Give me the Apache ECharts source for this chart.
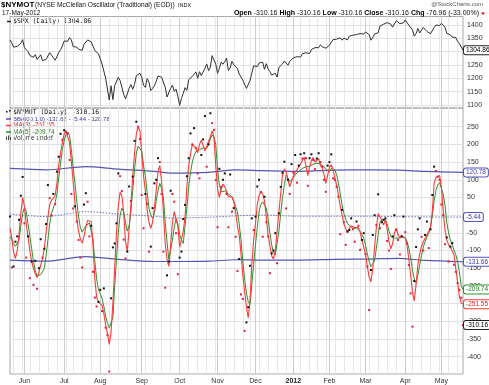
<!DOCTYPE html>
<html><head><meta charset="utf-8">
<script src="https://cdn.jsdelivr.net/npm/echarts@6/dist/echarts.min.js"></script>
<style>html,body{margin:0;padding:0;background:#fff}#c{width:489px;height:385px}</style>
</head><body><div id="c"></div>
<script>
// ---------- categories: NYSE trading days 19-May-2011 .. 17-May-2012 ----------
const holidays = ['2011-05-30','2011-07-04','2011-09-05','2011-11-24','2011-12-26','2012-01-02','2012-01-16','2012-02-20','2012-04-06'];
const firstDay = '2011-05-19', lastDay = '2012-05-17';
function tradingDays(){
  const out=[]; let d=new Date(firstDay+'T00:00:00Z'); const e=new Date(lastDay+'T00:00:00Z');
  while(d<=e){ const s=d.toISOString().slice(0,10); const w=d.getUTCDay();
    if(w!==0&&w!==6&&holidays.indexOf(s)<0) out.push(s); d=new Date(d.getTime()+86400000); }
  return out;
}
const dates = tradingDays();
const monthNames = ['Jan','Feb','Mar','Apr','May','Jun','Jul','Aug','Sep','Oct','Nov','Dec'];
const spxTicks = [1100,1150,1200,1250,1300,1350,1400];
const oscTicks = [-400,-350,-300,-250,-200,-150,-100,-50,0,50,100,150,200,250];

// ---------- $SPX daily close ----------
const spx = [
1344,1333,1317,1316,1320,1325,1331,1345,1315,1313,
1300,1286,1284,1279,1289,1271,1272,1288,1266,1268,
1271,1278,1296,1287,1283,1268,1281,1297,1307,1321,
1340,1338,1339,1353,1344,1319,1314,1317,1309,1316,
1305,1327,1326,1344,1345,1337,1331,1304,1300,1292,
1287,1254,1261,1200,1199,1119,1172,1120,1172,1179,
1204,1192,1193,1140,1123,1123,1162,1177,1159,1177,
1210,1212,1219,1204,1174,1166,1199,1186,1154,1162,
1172,1188,1209,1216,1204,1202,1167,1130,1136,1162,
1175,1151,1160,1131,1099,1124,1144,1165,1155,1195,
1195,1207,1203,1224,1200,1225,1210,1215,1238,1254,
1229,1242,1285,1285,1253,1219,1237,1261,1253,1262,
1276,1229,1239,1264,1251,1258,1237,1216,1216,1193,
1188,1162,1159,1192,1196,1247,1245,1244,1257,1258,
1261,1234,1255,1236,1225,1212,1215,1219,1205,1241,
1243,1254,1265,1265,1249,1263,1258,1277,1277,1281,
1278,1280,1292,1292,1296,1289,1293,1308,1315,1315,
1316,1315,1326,1318,1316,1313,1312,1324,1325,1345,
1344,1347,1350,1352,1343,1351,1351,1344,1358,1361,
1362,1357,1364,1366,1368,1372,1366,1374,1370,1364,
1343,1353,1366,1370,1371,1396,1394,1403,1404,1409,
1405,1403,1392,1397,1416,1413,1405,1403,1408,1419,
1413,1399,1398,1382,1358,1368,1387,1370,1370,1391,
1385,1376,1378,1367,1372,1391,1400,1403,1398,1406,
1403,1392,1369,1369,1363,1355,1357,1353,1339,1330,
1325,1304.86];

// ---------- $NYMOT daily values (dots) ----------
const osc = [
-4,-148,-145,-75,-60,-13,55,108,-23,-120,
-60,-178,-131,-197,-129,-208,-150,-68,-120,-95,
-25,85,48,0,60,31,123,165,230,213,
240,236,230,156,60,19,25,-18,-70,-120,
-148,30,62,38,-60,-30,-160,-233,-258,-245,
-211,-271,-207,-318,-339,-442,-235,-91,-80,-23,
118,110,68,-69,-122,-103,81,40,109,210,
264,250,215,57,-37,60,32,-103,-89,20,
90,100,161,150,60,-103,-205,-170,-131,69,
60,38,-51,-167,-120,-103,-11,29,110,161,
231,200,246,190,118,104,170,214,280,137,
200,288,260,241,99,-34,131,80,100,118,
60,-34,115,10,20,-61,-158,-124,-224,-237,
-327,-303,-260,-143,-9,-42,-4,81,100,65,
-61,52,-20,-60,-164,-108,-100,-51,-136,5,
80,120,151,19,100,60,144,120,170,92,
140,172,160,175,161,83,161,172,156,130,
160,175,150,137,100,66,140,150,172,104,
100,80,52,-54,15,-20,-84,-46,-42,-9,
-40,-75,-18,-30,-98,-70,-51,-110,-145,-268,
-155,-56,0,-28,59,-37,-20,-13,-9,-73,
-100,-152,-60,0,-42,-70,-111,-60,-4,-48,
-80,-141,-221,-315,-186,-90,-40,-9,-61,-100,
-56,-18,-93,-40,57,137,125,109,100,30,
0,-82,-63,-131,-89,-79,-140,-160,-192,-211.3,
-233.2,-310.16];

// ---------- MA(3) ----------
const ma3 = [
-37,-65,-105,-122,-100,-55,5,50,25,-25,
-62,-100,-131,-150,-166,-176,-162,-142,-122,-95,
-50,-5,30,42,48,55,90,140,175,205,
230,238,238,205,150,95,35,-10,-45,-68,
-79,-60,-35,-15,-12,-18,-85,-180,-232,-245,
-250,-255,-278,-310,-335,-365,-330,-250,-150,-50,
25,65,55,5,-75,-103,-40,30,110,175,
230,250,238,175,110,70,15,-20,-37,-20,
20,70,123,140,95,10,-80,-125,-145,-85,
-20,10,10,-30,-90,-90,-45,-5,80,140,
172,200,198,190,176,200,212,215,182,195,
208,222,238,222,140,75,50,72,88,80,
68,52,52,52,38,10,-30,-56,-110,-170,
-215,-260,-290,-240,-140,-70,-25,30,55,68,
60,40,-5,-55,-85,-115,-124,-100,-45,10,
60,115,130,123,100,80,95,110,122,128,
132,145,155,163,140,112,135,155,163,150,
155,160,140,133,115,90,112,135,142,130,
105,85,55,25,0,-25,-38,-50,-38,-30,
-28,-35,-37,-35,-48,-70,-90,-110,-145,-175,
-188,-150,-90,-35,5,3,-15,-28,-13,-40,
-75,-95,-80,-50,-37,-55,-65,-58,-60,-65,
-85,-125,-170,-216,-242,-195,-140,-110,-88,-75,
-65,-56,-52,-35,10,90,106,110,112,80,
15,-40,-70,-84,-90,-95,-112,-150,-190,-230,
-248,-251.55];

// ---------- MA(5) ----------
const ma5 = [
-61,-70,-80,-88,-90,-70,-30,5,22,10,
-25,-60,-95,-130,-158,-172,-175,-168,-160,-150,
-115,-70,-25,5,20,35,60,105,145,185,
210,228,235,225,185,135,90,40,-5,-35,
-48,-45,-30,-25,-22,-25,-70,-130,-180,-210,
-222,-235,-258,-285,-305,-318,-318,-290,-200,-125,
-50,0,20,10,-20,-45,-30,10,70,130,
175,195,200,180,140,110,65,20,0,-9,
5,40,70,90,75,50,-20,-75,-125,-100,
-70,-35,-10,-25,-55,-70,-80,-30,20,80,
120,150,168,180,183,185,188,190,190,189,
200,215,227,220,200,130,85,66,66,68,
66,60,55,52,40,25,10,-25,-70,-130,
-180,-220,-245,-252,-195,-140,-85,-35,10,30,
38,35,20,-10,-50,-84,-105,-112,-80,-45,
5,48,85,114,105,95,100,105,114,118,
124,128,132,135,137,137,138,141,144,146,
147,147,145,141,137,130,125,123,132,137,
128,114,90,60,29,5,-12,-23,-30,-35,
-37,-37,-37,-37,-45,-55,-65,-85,-110,-131,
-145,-150,-130,-93,-55,-20,-13,-12,-13,-25,
-45,-60,-65,-65,-63,-65,-63,-61,-61,-63,
-75,-93,-120,-155,-180,-192,-170,-141,-115,-90,
-75,-62,-52,-35,0,40,70,85,92,95,
60,29,-20,-50,-70,-84,-98,-112,-131,-160,
-200,-209.74];

// ---------- BB(600,1.0) read at a few dates ----------
const bbDates = ['2011-05-19','2011-06-17','2011-07-20','2011-08-15','2011-09-13','2011-09-27','2011-10-25','2011-11-15','2011-12-07','2012-01-06','2012-02-06','2012-03-06','2012-03-27','2012-04-18','2012-05-17'];
const bbUpper = [132,128,137,130,124,119,121,128,126,124,127,128,127,124,120.78];
const bbMid   = [3,-4,10,3,-3,-8,-6,-2,0,-3,-3,-3,-4,-5,-5.44];
const bbLower = [-127,-130,-117,-125,-131,-131,-130,-126,-127,-127,-125,-124,-122,-128,-131.66];

// ---------- chart ----------
const FONT = '"Liberation Sans", Arial, sans-serif';
const C_RED = '#ff3838', C_GREEN = '#2f8f2f', C_BLUE = '#5555b5', C_DOT_RED = '#e0203c';
const last = a => a[a.length-1];
const pair = (ds, vs) => ds.map((d,i)=>[d, vs[i]]);
function dow(s){ return new Date(s+'T00:00:00Z').getUTCDay(); }
function isWeekStart(i){ return i>0 && dow(dates[i]) < dow(dates[i-1]); }
function isMonthStart(i){ return i>0 && dates[i].slice(5,7) !== dates[i-1].slice(5,7); }
function monthLabel(v){ const m=+v.slice(5,7); return m===1 ? '{y|'+v.slice(0,4)+'}' : monthNames[m-1]; }

function endLbl(text, color, border){
  return {show:true, formatter: ()=>text, distance:1, fontSize:6.5, fontFamily:FONT, color:color,
    backgroundColor:'#fff', borderColor:border||color, borderWidth:1, borderRadius:2, padding:[1,2,0,2]};
}

const frameX = (gi, kind, labels) => ({
  type:'category', gridIndex:gi, data:dates, boundaryGap:false, position:'bottom',
  axisLine:{show:false}, axisTick:{show:false},
  axisLabel: labels ? {show:true, interval:(i)=>isMonthStart(i), formatter:monthLabel, fontSize:7, fontFamily:FONT, color:'#333', margin:4,
      rich:{y:{fontWeight:'bold', fontSize:7, fontFamily:FONT, color:'#222'}}} : {show:false},
  splitLine:{show:true, interval: kind==='w' ? (i)=>isWeekStart(i) : (i)=>isMonthStart(i),
     lineStyle:{color: kind==='w' ? '#e8e8e8' : '#cccccc', width:1}}
});

const yLab = {fontSize:7, fontFamily:FONT, color:'#333', margin:4, formatter:(v)=>String(v)};

const option = {
  animation:false,
  backgroundColor:'#fff',
  grid:[
    {left:10, right:26, top:16.5, height:91.5, show:true, borderColor:'#a8a8a8', borderWidth:1},
    {left:10, right:26, top:25, height:80},
    {left:10, right:26, top:108, height:267, show:true, borderColor:'#a8a8a8', borderWidth:1},
    {left:10, right:26, top:126.7, height:230}
  ],
  xAxis:[
    frameX(0,'w',false), frameX(0,'m',false),
    {type:'category', gridIndex:1, data:dates, boundaryGap:false, show:false},
    frameX(2,'w',false), frameX(2,'m',true),
    {type:'category', gridIndex:3, data:dates, boundaryGap:false, show:false}
  ],
  yAxis:[
    {type:'value', gridIndex:0, show:false, splitLine:{show:false}},
    {type:'value', gridIndex:1, min:spxTicks[0], max:last(spxTicks), interval:50, position:'right',
      axisLine:{show:false}, axisTick:{show:false}, axisLabel:yLab, splitLine:{lineStyle:{color:'#e2e2e2'}}},
    {type:'value', gridIndex:2, show:false, splitLine:{show:false}},
    {type:'value', gridIndex:3, min:oscTicks[0], max:last(oscTicks), interval:50, position:'right',
      axisLine:{show:false}, axisTick:{show:false}, axisLabel:yLab, splitLine:{lineStyle:{color:'#e2e2e2'}}}
  ],
  series:[
    {type:'line', name:'$SPX', xAxisIndex:2, yAxisIndex:1, data:spx, symbol:'none', clip:false,
      lineStyle:{color:'#303030', width:1}, endLabel:endLbl(last(spx).toFixed(2),'#000','#222')},
    {type:'line', name:'BB upper', xAxisIndex:5, yAxisIndex:3, data:pair(bbDates,bbUpper), symbol:'none', smooth:0.3,
      lineStyle:{color:C_BLUE, width:1.2}, endLabel:endLbl(last(bbUpper).toFixed(2),'#3a3aaa',C_BLUE)},
    {type:'line', name:'BB mid', xAxisIndex:5, yAxisIndex:3, data:pair(bbDates,bbMid), symbol:'none', smooth:0.3,
      lineStyle:{color:'#7070c8', width:1, type:[1.5,1.5]}, endLabel:endLbl(last(bbMid).toFixed(2),'#3a3aaa',C_BLUE)},
    {type:'line', name:'BB lower', xAxisIndex:5, yAxisIndex:3, data:pair(bbDates,bbLower), symbol:'none', smooth:0.3,
      lineStyle:{color:C_BLUE, width:1.2}, endLabel:endLbl(last(bbLower).toFixed(2),'#3a3aaa',C_BLUE)},
    {type:'line', name:'MA(5)', xAxisIndex:5, yAxisIndex:3, data:ma5, symbol:'none', clip:false,
      lineStyle:{color:C_GREEN, width:1}, endLabel:endLbl(last(ma5).toFixed(2),'#1f7a1f',C_GREEN)},
    {type:'line', name:'MA(3)', xAxisIndex:5, yAxisIndex:3, data:ma3, symbol:'none', clip:false,
      lineStyle:{color:C_RED, width:1.1}, endLabel:endLbl(last(ma3).toFixed(2),'#e02020',C_RED)},
    {type:'line', name:'$NYMOT', xAxisIndex:5, yAxisIndex:3, data:osc, clip:false,
      symbol:'rect', symbolSize:2, showSymbol:true, showAllSymbol:true,
      lineStyle:{width:0, opacity:0},
      itemStyle:{color:(p)=> (p.dataIndex>0 && osc[p.dataIndex] < osc[p.dataIndex-1]) ? C_DOT_RED : '#111'},
      endLabel:endLbl(last(osc).toFixed(2),'#000','#222')}
  ],
  graphic:[
    {type:'text', x:1, y:5, style:{text:'$NYMOT', font:'bold 8px '+FONT, fill:'#000', textVerticalAlign:'middle'}},
    {type:'text', x:35, y:5.5, style:{text:'(NYSE McClellan Oscillator (Traditional) (EOD))', font:'6.6px '+FONT, fill:'#111', textVerticalAlign:'middle'}},
    {type:'text', x:178, y:5.5, style:{text:'INDX', font:'5.5px '+FONT, fill:'#111', textVerticalAlign:'middle'}},
    {type:'text', x:2, y:13, style:{text:'17-May-2012', font:'6.5px '+FONT, fill:'#111', textVerticalAlign:'middle'}},
    {type:'text', x:483, y:4.5, style:{text:'@StockCharts.com', font:'6px '+FONT, fill:'#555', textAlign:'right', textVerticalAlign:'middle'}},
    {type:'text', x:479, y:13.5, style:{
      text:'{b|Open} {n|-310.16} {b|High} {n|-310.16} {b|Low} {n|-310.16} {b|Close} {n|-310.16} {b|Chg} {n|-76.96 (-33.00%)}',
      font:'7px '+FONT, fill:'#111', textAlign:'right', textVerticalAlign:'middle',
      rich:{b:{fontSize:7, fontFamily:FONT, fontWeight:'bold', fill:'#000', lineHeight:9},
            n:{fontSize:7, fontFamily:FONT, fill:'#111', lineHeight:9}}}},
    {type:'polygon', shape:{points:[[481,12.5],[485,12.5],[483,15]]}, style:{fill:'#e00000'}},
    // upper legend
    {type:'line', shape:{x1:7,y1:21.5,x2:11,y2:21.5}, style:{stroke:'#222', lineWidth:1.5}},
    {type:'text', x:13, y:21.5, style:{text:'$SPX (Daily) 1304.86', font:'6.5px "DejaVu Sans Mono", monospace', fill:'#111', textVerticalAlign:'middle'}},
    // lower legend
    {type:'rect', shape:{x:6,y:111,width:1.5,height:1.5}, style:{fill:'#111'}},
    {type:'rect', shape:{x:9,y:110,width:1.5,height:1.5}, style:{fill:'#111'}},
    {type:'text', x:13, y:112, style:{text:'$NYMOT (Daily) -310.16', font:'6.5px "DejaVu Sans Mono", monospace', fill:'#111', textVerticalAlign:'middle'}},
    {type:'line', shape:{x1:6,y1:119,x2:11,y2:119}, style:{stroke:C_BLUE, lineWidth:1.5}},
    {type:'text', x:13, y:119, style:{text:'BB(600,1.0) -131.66 - -5.44 - 120.78', font:'6px '+FONT, fill:'#3a3aaa', textVerticalAlign:'middle'}},
    {type:'line', shape:{x1:6,y1:125.5,x2:11,y2:125.5}, style:{stroke:C_RED, lineWidth:1.5}},
    {type:'text', x:13, y:125.5, style:{text:'MA(3) -251.55', font:'6.5px '+FONT, fill:'#e02020', textVerticalAlign:'middle'}},
    {type:'line', shape:{x1:6,y1:132,x2:11,y2:132}, style:{stroke:C_GREEN, lineWidth:1.5}},
    {type:'text', x:13, y:132, style:{text:'MA(5) -209.74', font:'6.5px '+FONT, fill:'#1f7a1f', textVerticalAlign:'middle'}},
    {type:'rect', shape:{x:6,y:136.5,width:1,height:3.5}, style:{fill:'#444'}},
    {type:'rect', shape:{x:8,y:135.5,width:1,height:4.5}, style:{fill:'#444'}},
    {type:'rect', shape:{x:10,y:137,width:1,height:3}, style:{fill:'#444'}},
    {type:'text', x:13, y:138.5, style:{text:'Volume undef', font:'6.5px '+FONT, fill:'#333', textVerticalAlign:'middle'}}
  ]
};
const chart = echarts.init(document.getElementById('c'));
chart.setOption(option);
</script></body></html>
